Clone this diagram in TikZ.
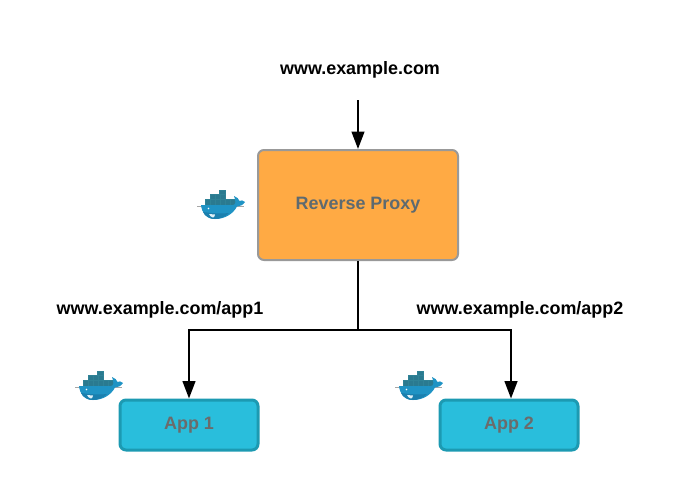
\documentclass[tikz,border=0pt]{standalone}
\usepackage{fontspec}
\setmainfont{Liberation Sans}
\usetikzlibrary{arrows.meta}
\definecolor{proxyfill}{HTML}{FFAA44}
\definecolor{proxyline}{HTML}{999999}
\definecolor{appfill}{HTML}{29BEDC}
\definecolor{appline}{HTML}{1C9AB2}
\definecolor{boxtext}{HTML}{5E6A70}
\definecolor{apptext}{HTML}{6B6B6B}
\definecolor{whaleblue}{HTML}{1F93C4}
\definecolor{whaledark}{HTML}{1A7FAE}
\definecolor{cratedark}{HTML}{2F8296}
\definecolor{crateteal}{HTML}{2A7A90}
\tikzset{
  urllabel/.style={font=\bfseries\fontsize{13.45}{16}\selectfont,text=black},
  proxybox/.style={draw=proxyline,line width=1.5pt,fill=proxyfill,rounded corners=4.5pt,
    minimum width=150pt,minimum height=82.5pt,inner sep=0pt,text=boxtext,
    font=\bfseries\fontsize{13.45}{16}\selectfont},
  appbox/.style={draw=appline,line width=2.25pt,fill=appfill,rounded corners=4.5pt,
    minimum width=103.5pt,minimum height=37.5pt,inner sep=0pt,text=apptext,
    font=\bfseries\fontsize{13.45}{16}\selectfont},
  link/.style={line width=1.5pt,-{Triangle[length=13pt,width=9.5pt]}},
  plainlink/.style={line width=1.5pt},
  crate/.style={fill=crateteal,draw=cratedark,line width=0.2pt}
}
\newcommand{\dockerwhale}[1]{%
  \begin{scope}[shift={(#1)}]
    \foreach \cx in {-15,-10,-5,0,5,10} \draw[crate] (\cx,-5.5) rectangle ++(5,5.5);
    \foreach \cx in {-10,-5,-0} \draw[crate] (\cx,-10.5) rectangle ++(5,5);
    \draw[crate] (-1,-15) rectangle ++(6,4.5);
    \draw[gray!70,thin] (-23,1) -- (-15,1) (14,1) -- (24,1);
    \fill[whaleblue] (-19,0) -- (13,0) .. controls (16,0) and (16,-4) .. (14,-9)
      .. controls (17,-8) and (19,-6) .. (19.5,-4) .. controls (21,-5) and (23,-5) .. (25,-3)
      .. controls (23,0) and (20,1.5) .. (17,1.5) .. controls (13,9) and (5,14) .. (-5,14)
      .. controls (-14,14) and (-18,8) .. (-19,0) -- cycle;
    \fill[whaledark] (-17,7) .. controls (-10,8) and (0,9) .. (9,8)
      .. controls (5,12) and (0,14) .. (-5,14) .. controls (-11,14) and (-15,11) .. (-17,7) -- cycle;
    \fill[white!85!whaleblue] (-11,9) .. controls (-9,9) and (-7,9.5) .. (-5,9.5)
      .. controls (-5,11) and (-6,12.5) .. (-7,12.5) .. controls (-9,12) and (-10,11) .. (-11,9) -- cycle;
    \fill[white] (-11.5,3.5) circle (0.8);
  \end{scope}}
\begin{document}
\begin{tikzpicture}[x=0.75pt,y=-0.75pt]
  \useasboundingbox (0,0) rectangle (680,490);

  \node[urllabel] (site) at (360,69.5) {www.example.com};
  \node[urllabel] (site1) at (160,309.5) {www.example.com/app1};
  \node[urllabel] (site2) at (520,309.5) {www.example.com/app2};

  \node[proxybox] (proxy) at (358,205) {Reverse Proxy};
  \node[appbox] (app1) at (189,425) {App 1};
  \node[appbox] (app2) at (509,425) {App 2};

  \coordinate (entry) at (358,100);
  \coordinate (split) at (358,330);
  \coordinate (drop2) at (511,398.5);

  \draw[link] (entry) -- (proxy.north);
  \draw[plainlink] (proxy.south) -- (split);
  \draw[link] (split) -| (app1.north);
  \draw[link] (split) -| (drop2);

  \dockerwhale{220,205}
  \dockerwhale{98,386}
  \dockerwhale{418,386}
\end{tikzpicture}
\end{document}
